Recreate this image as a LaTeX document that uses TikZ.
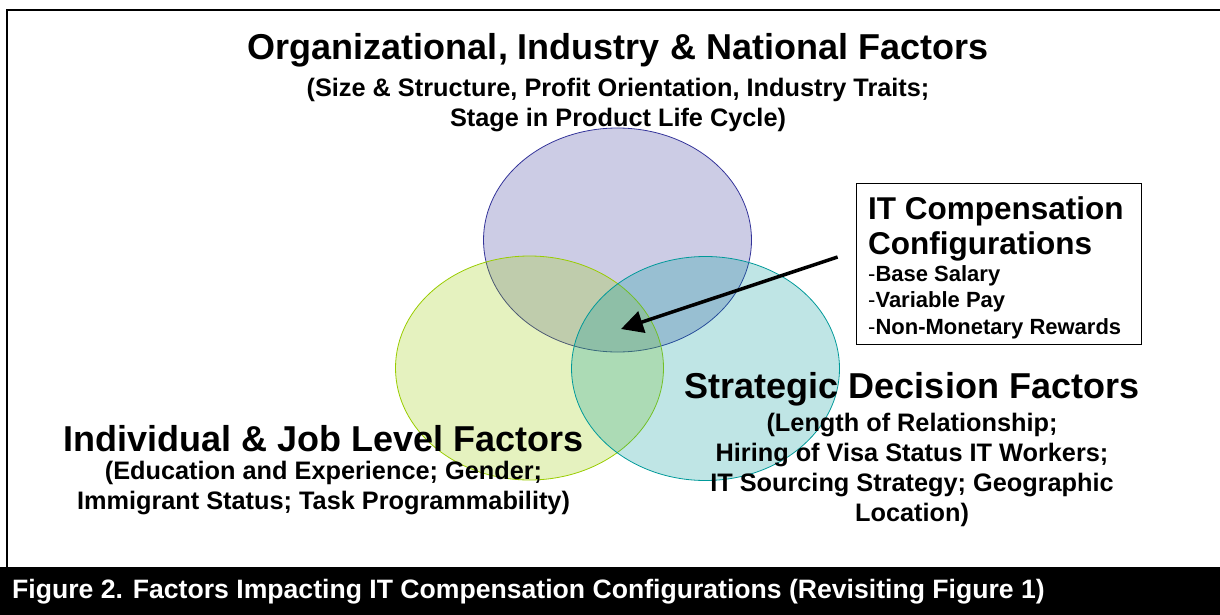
\documentclass[tikz,border=0pt]{standalone}
\usepackage{fontspec}
\setmainfont{Liberation Sans}
\usetikzlibrary{shapes.geometric, positioning, arrows.meta}
\definecolor{orgblue}{HTML}{333399}
\definecolor{indgreen}{HTML}{99CC00}
\definecolor{strteal}{HTML}{009999}

\begin{document}
\begin{tikzpicture}[x=1pt, y=-1pt, >=latex,
				Venn/.style={
				ellipse,
				draw=#1,
				line width=0.8pt,
				fill=#1,
				fill opacity=0.25,
				minimum width=268pt,
				minimum height=224pt
				},
				Head/.style={
				font=\bfseries\fontsize{36}{38}\selectfont,
				inner sep=0pt
				},
				Sub/.style={
				font=\bfseries\fontsize{25.3}{30}\selectfont,
				align=center,
				inner sep=0pt
				},
				Item/.style={
				font=\fontsize{22}{24}\selectfont,
				anchor=west,
				inner sep=0pt
				}]
				\useasboundingbox (0,0) rectangle (1220,615);
				% frame and caption bar
				\draw[line width=2pt] (7,567) |- (1221,10);
				\fill[black] (0,567) rectangle (1220,615);
				\node[font=\bfseries\fontsize{26.6}{28}\selectfont, text=white, anchor=west, inner sep=0pt] (cap) at (12,592) {Figure 2. Factors Impacting IT Compensation Configurations (Revisiting Figure 1)};
				% the three circles
				\node[Venn=orgblue] (org) at (617.5,240) {};
				\node[Venn=indgreen] (ind) at (529.5,368) {};
				\node[Venn=strteal] (str) at (705.5,368.5) {};
				% labels
				\node[Head] (orgT) at (618,50) {Organizational, Industry \& National Factors};
				\node[Sub] (orgS) at (618,105) {(Size \& Structure, Profit Orientation, Industry Traits;\\Stage in Product Life Cycle)};
				\node[Head] (indT) at (323.5,439) {Individual \& Job Level Factors};
				\node[Sub] (indS) at (323.5,488) {(Education and Experience; Gender;\\Immigrant Status; Task Programmability)};
				\node[Head] (strT) at (912,389) {Strategic Decision Factors};
				\node[Sub] (strS) at (912,469.5) {(Length of Relationship;\\Hiring of Visa Status IT Workers;\\IT Sourcing Strategy; Geographic\\Location)};
				% compensation box
				\node[draw, line width=0.8pt, minimum width=285pt, minimum height=161pt] (cfg) at (998.5,263.5) {};
				\node[Head, font=\bfseries\fontsize{31.5}{33}\selectfont, anchor=west] (cfgT) at (868,211) {IT Compensation};
				\node[Head, font=\bfseries\fontsize{31.5}{33}\selectfont, anchor=west] (cfgC) at (868,246) {Configurations};
				\node[Item] (base) at (868,275.5) {-\textbf{Base Salary}};
				\node[Item] (var) at (868,301.5) {-\textbf{Variable Pay}};
				\node[Item] (non) at (868,328.5) {-\textbf{Non-Monetary Rewards}};
				\coordinate (core) at (621,329);
				\draw[-{Triangle[length=22pt,width=22pt]}, line width=3.5pt] ([xshift=-18pt,yshift=6.5pt]cfg.west) -- (core);
			\end{tikzpicture}
\end{document}
